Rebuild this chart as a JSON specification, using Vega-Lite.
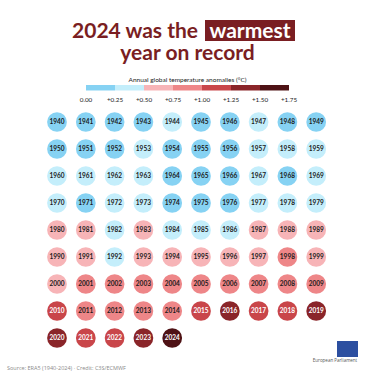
{
  "$schema": "https://vega.github.io/schema/vega-lite/v6.json",
  "width": 375,
  "height": 375,
  "autosize": {"type": "fit", "contains": "padding"},
  "padding": 0,
  "background": "white",
  "config": {"view": {"stroke": null}, "font": "Lato"},
  "datasets": {
    "years": [
      {"year": 1940, "anomaly": 0.22}, {"year": 1941, "anomaly": 0.21}, {"year": 1942, "anomaly": 0.18}, {"year": 1943, "anomaly": 0.20}, {"year": 1944, "anomaly": 0.30},
      {"year": 1945, "anomaly": 0.17}, {"year": 1946, "anomaly": 0.12}, {"year": 1947, "anomaly": 0.26}, {"year": 1948, "anomaly": 0.14}, {"year": 1949, "anomaly": 0.16},
      {"year": 1950, "anomaly": 0.06}, {"year": 1951, "anomaly": 0.19}, {"year": 1952, "anomaly": 0.22}, {"year": 1953, "anomaly": 0.28}, {"year": 1954, "anomaly": 0.10},
      {"year": 1955, "anomaly": 0.09}, {"year": 1956, "anomaly": 0.04}, {"year": 1957, "anomaly": 0.27}, {"year": 1958, "anomaly": 0.31}, {"year": 1959, "anomaly": 0.27},
      {"year": 1960, "anomaly": 0.26}, {"year": 1961, "anomaly": 0.30}, {"year": 1962, "anomaly": 0.28}, {"year": 1963, "anomaly": 0.29}, {"year": 1964, "anomaly": 0.07},
      {"year": 1965, "anomaly": 0.13}, {"year": 1966, "anomaly": 0.22}, {"year": 1967, "anomaly": 0.26}, {"year": 1968, "anomaly": 0.20}, {"year": 1969, "anomaly": 0.34},
      {"year": 1970, "anomaly": 0.29}, {"year": 1971, "anomaly": 0.16}, {"year": 1972, "anomaly": 0.30}, {"year": 1973, "anomaly": 0.42}, {"year": 1974, "anomaly": 0.17},
      {"year": 1975, "anomaly": 0.23}, {"year": 1976, "anomaly": 0.15}, {"year": 1977, "anomaly": 0.40}, {"year": 1978, "anomaly": 0.33}, {"year": 1979, "anomaly": 0.44},
      {"year": 1980, "anomaly": 0.52}, {"year": 1981, "anomaly": 0.55}, {"year": 1982, "anomaly": 0.42}, {"year": 1983, "anomaly": 0.58}, {"year": 1984, "anomaly": 0.41},
      {"year": 1985, "anomaly": 0.39}, {"year": 1986, "anomaly": 0.45}, {"year": 1987, "anomaly": 0.60}, {"year": 1988, "anomaly": 0.63}, {"year": 1989, "anomaly": 0.55},
      {"year": 1990, "anomaly": 0.68}, {"year": 1991, "anomaly": 0.65}, {"year": 1992, "anomaly": 0.47}, {"year": 1993, "anomaly": 0.51}, {"year": 1994, "anomaly": 0.57},
      {"year": 1995, "anomaly": 0.70}, {"year": 1996, "anomaly": 0.61}, {"year": 1997, "anomaly": 0.72}, {"year": 1998, "anomaly": 0.87}, {"year": 1999, "anomaly": 0.66},
      {"year": 2000, "anomaly": 0.68}, {"year": 2001, "anomaly": 0.83}, {"year": 2002, "anomaly": 0.90}, {"year": 2003, "anomaly": 0.89}, {"year": 2004, "anomaly": 0.82},
      {"year": 2005, "anomaly": 0.95}, {"year": 2006, "anomaly": 0.91}, {"year": 2007, "anomaly": 0.92}, {"year": 2008, "anomaly": 0.80}, {"year": 2009, "anomaly": 0.93},
      {"year": 2010, "anomaly": 1.05}, {"year": 2011, "anomaly": 0.87}, {"year": 2012, "anomaly": 0.93}, {"year": 2013, "anomaly": 0.97}, {"year": 2014, "anomaly": 0.99},
      {"year": 2015, "anomaly": 1.17}, {"year": 2016, "anomaly": 1.31}, {"year": 2017, "anomaly": 1.21}, {"year": 2018, "anomaly": 1.12}, {"year": 2019, "anomaly": 1.27},
      {"year": 2020, "anomaly": 1.28}, {"year": 2021, "anomaly": 1.13}, {"year": 2022, "anomaly": 1.17}, {"year": 2023, "anomaly": 1.48}, {"year": 2024, "anomaly": 1.60}
    ],
    "bins": [
      {"lo": 0, "hi": 0.25}, {"lo": 0.25, "hi": 0.5}, {"lo": 0.5, "hi": 0.75}, {"lo": 0.75, "hi": 1.0},
      {"lo": 1.0, "hi": 1.25}, {"lo": 1.25, "hi": 1.5}, {"lo": 1.5, "hi": 1.75}
    ],
    "ticks": [
      {"v": 0, "label": "0.00"}, {"v": 0.25, "label": "+0.25"}, {"v": 0.5, "label": "+0.50"}, {"v": 0.75, "label": "+0.75"},
      {"v": 1.0, "label": "+1.00"}, {"v": 1.25, "label": "+1.25"}, {"v": 1.5, "label": "+1.50"}, {"v": 1.75, "label": "+1.75"}
    ]
  },
  "resolve": {"scale": {"x": "independent"}},
  "layer": [
    {
      "data": {"name": "years"},
      "transform": [
        {"calculate": "datum.year % 10", "as": "col"},
        {"calculate": "floor((datum.year - 1940) / 10)", "as": "row"}
      ],
      "mark": {"type": "circle", "size": 390, "opacity": 1},
      "encoding": {
        "x": {"field": "col", "type": "quantitative", "scale": {"domain": [-1.9792, 11.0417], "nice": false, "zero": false}, "axis": null},
        "y": {"field": "row", "type": "quantitative", "scale": {"domain": [-4.5185, 9.3704], "nice": false, "zero": false, "reverse": true}, "axis": null},
        "color": {"field": "anomaly", "type": "quantitative", "scale": {"type": "threshold", "domain": [0.25, 0.5, 0.75, 1.0, 1.25, 1.5], "range": ["#86d2f3", "#c4eefb", "#f7b4b7", "#ee8688", "#c9464a", "#8a2529", "#4e1215"]}, "legend": null}
      }
    },
    {
      "data": {"name": "years"},
      "transform": [
        {"calculate": "datum.year % 10", "as": "col"},
        {"calculate": "floor((datum.year - 1940) / 10)", "as": "row"}
      ],
      "mark": {"type": "text", "fontSize": 6.5, "fontWeight": "bold", "align": "center", "baseline": "middle"},
      "encoding": {
        "x": {"field": "col", "type": "quantitative", "scale": {"domain": [-1.9792, 11.0417], "nice": false, "zero": false}, "axis": null},
        "y": {"field": "row", "type": "quantitative", "scale": {"domain": [-4.5185, 9.3704], "nice": false, "zero": false, "reverse": true}, "axis": null},
        "text": {"field": "year", "type": "nominal"},
        "color": {"condition": {"test": "datum.anomaly >= 1", "value": "#ffffff"}, "value": "#1b1b1b"}
      }
    },
    {
      "data": {"name": "bins"},
      "mark": {"type": "rect"},
      "encoding": {
        "x": {"field": "lo", "type": "quantitative", "scale": {"domain": [-0.7414, 2.4914], "nice": false, "zero": false}, "axis": null},
        "x2": {"field": "hi"},
        "y": {"datum": -1.3704, "type": "quantitative", "scale": {"domain": [-4.5185, 9.3704], "nice": false, "zero": false, "reverse": true}, "axis": null},
        "y2": {"datum": -1.1667},
        "color": {"field": "lo", "type": "quantitative", "scale": {"type": "threshold", "domain": [0.25, 0.5, 0.75, 1.0, 1.25, 1.5], "range": ["#86d2f3", "#c4eefb", "#f7b4b7", "#ee8688", "#c9464a", "#8a2529", "#4e1215"]}, "legend": null}
      }
    },
    {
      "data": {"name": "ticks"},
      "mark": {"type": "text", "fontSize": 6.3, "color": "#222222", "align": "center", "baseline": "middle"},
      "encoding": {
        "x": {"field": "v", "type": "quantitative", "scale": {"domain": [-0.7414, 2.4914], "nice": false, "zero": false}, "axis": null},
        "y": {"datum": -0.8148, "type": "quantitative", "scale": {"domain": [-4.5185, 9.3704], "nice": false, "zero": false, "reverse": true}, "axis": null},
        "text": {"field": "label", "type": "nominal"}
      }
    },
    {
      "data": {"values": [{"label": "Annual global temperature anomalies (°C)"}]},
      "mark": {"type": "text", "fontSize": 6.5, "color": "#222222", "align": "center", "baseline": "middle"},
      "encoding": {
        "x": {"datum": 0.875, "type": "quantitative", "scale": {"domain": [-0.7414, 2.4914], "nice": false, "zero": false}, "axis": null},
        "y": {"datum": -1.5556, "type": "quantitative", "scale": {"domain": [-4.5185, 9.3704], "nice": false, "zero": false, "reverse": true}, "axis": null},
        "text": {"field": "label", "type": "nominal"}
      }
    },
    {
      "data": {"values": [{"label": "box"}]},
      "mark": {"type": "rect", "color": "#7a1e22"},
      "encoding": {
        "x": {"datum": 5.1389, "type": "quantitative", "scale": {"domain": [-1.9792, 11.0417], "nice": false, "zero": false}, "axis": null},
        "x2": {"datum": 8.2639},
        "y": {"datum": -3.7778, "type": "quantitative", "scale": {"domain": [-4.5185, 9.3704], "nice": false, "zero": false, "reverse": true}, "axis": null},
        "y2": {"datum": -3.0}
      }
    },
    {
      "data": {"values": [{"label": "2024 was the"}]},
      "mark": {"type": "text", "fontSize": 21, "fontWeight": "bold", "color": "#7a1e22", "align": "right", "baseline": "alphabetic"},
      "encoding": {
        "x": {"datum": 4.8958, "type": "quantitative", "scale": {"domain": [-1.9792, 11.0417], "nice": false, "zero": false}, "axis": null},
        "y": {"datum": -3.1111, "type": "quantitative", "scale": {"domain": [-4.5185, 9.3704], "nice": false, "zero": false, "reverse": true}, "axis": null},
        "text": {"field": "label", "type": "nominal"}
      }
    },
    {
      "data": {"values": [{"label": "warmest"}]},
      "mark": {"type": "text", "fontSize": 21, "fontWeight": "bold", "color": "#ffffff", "align": "center", "baseline": "alphabetic"},
      "encoding": {
        "x": {"datum": 6.7014, "type": "quantitative", "scale": {"domain": [-1.9792, 11.0417], "nice": false, "zero": false}, "axis": null},
        "y": {"datum": -3.1111, "type": "quantitative", "scale": {"domain": [-4.5185, 9.3704], "nice": false, "zero": false, "reverse": true}, "axis": null},
        "text": {"field": "label", "type": "nominal"}
      }
    },
    {
      "data": {"values": [{"label": "year on record"}]},
      "mark": {"type": "text", "fontSize": 21, "fontWeight": "bold", "color": "#7a1e22", "align": "center", "baseline": "alphabetic"},
      "encoding": {
        "x": {"datum": 4.5313, "type": "quantitative", "scale": {"domain": [-1.9792, 11.0417], "nice": false, "zero": false}, "axis": null},
        "y": {"datum": -2.2778, "type": "quantitative", "scale": {"domain": [-4.5185, 9.3704], "nice": false, "zero": false, "reverse": true}, "axis": null},
        "text": {"field": "label", "type": "nominal"}
      }
    },
    {
      "data": {"values": [{"label": "Source: ERA5 (1940-2024) · Credit: C3S/ECMWF"}]},
      "mark": {"type": "text", "fontSize": 5.5, "font": "Open Sans", "color": "#8a8a8a", "align": "left", "baseline": "middle"},
      "encoding": {
        "x": {"datum": -1.7361, "type": "quantitative", "scale": {"domain": [-1.9792, 11.0417], "nice": false, "zero": false}, "axis": null},
        "y": {"datum": 9.1111, "type": "quantitative", "scale": {"domain": [-4.5185, 9.3704], "nice": false, "zero": false, "reverse": true}, "axis": null},
        "text": {"field": "label", "type": "nominal"}
      }
    },
    {
      "data": {"values": [{"label": "flag"}]},
      "mark": {"type": "rect", "color": "#2c4fa0"},
      "encoding": {
        "x": {"datum": 9.7222, "type": "quantitative", "scale": {"domain": [-1.9792, 11.0417], "nice": false, "zero": false}, "axis": null},
        "x2": {"datum": 10.4514},
        "y": {"datum": 8.1111, "type": "quantitative", "scale": {"domain": [-4.5185, 9.3704], "nice": false, "zero": false, "reverse": true}, "axis": null},
        "y2": {"datum": 8.7037}
      }
    },
    {
      "data": {"values": [{"label": "European Parliament"}]},
      "mark": {"type": "text", "fontSize": 4.5, "font": "Open Sans", "color": "#555555", "align": "center", "baseline": "middle"},
      "encoding": {
        "x": {"datum": 9.6528, "type": "quantitative", "scale": {"domain": [-1.9792, 11.0417], "nice": false, "zero": false}, "axis": null},
        "y": {"datum": 8.8519, "type": "quantitative", "scale": {"domain": [-4.5185, 9.3704], "nice": false, "zero": false, "reverse": true}, "axis": null},
        "text": {"field": "label", "type": "nominal"}
      }
    }
  ]
}
